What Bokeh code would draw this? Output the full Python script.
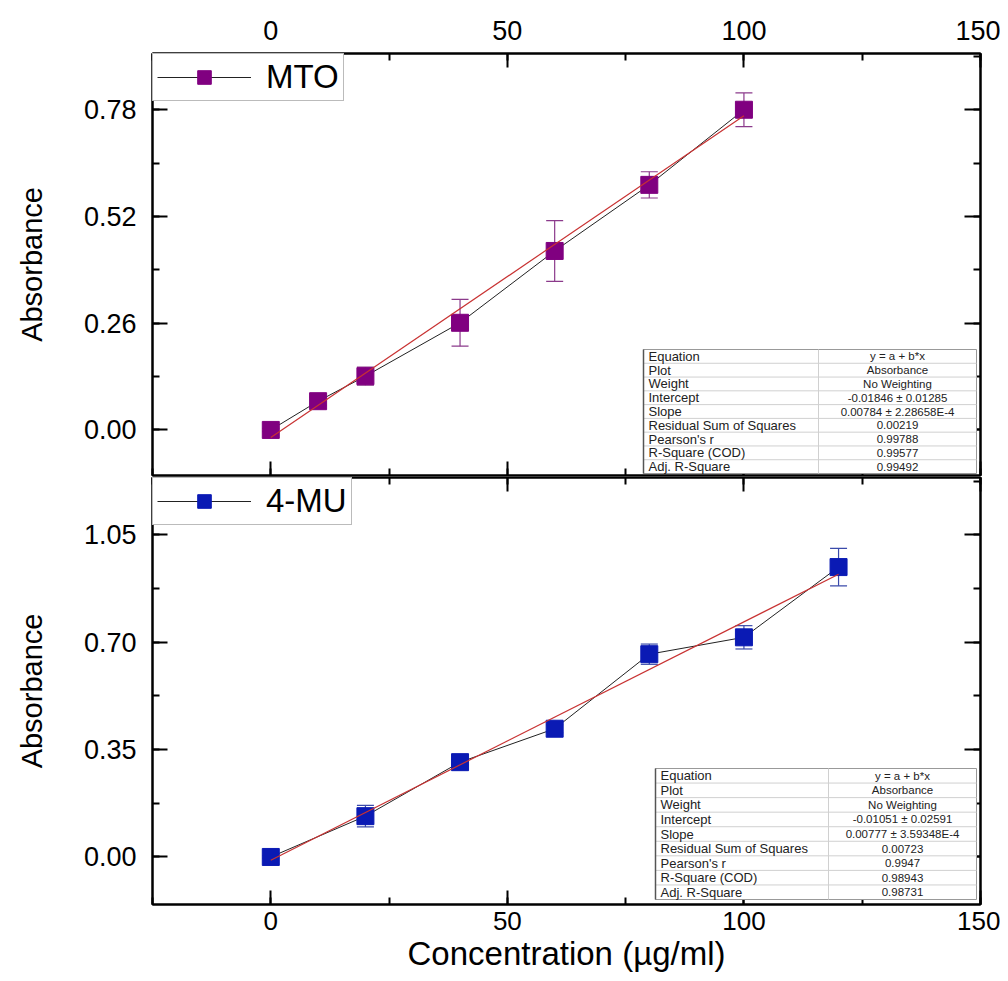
import numpy as np
from bokeh.plotting import figure
from bokeh.models import (Range1d, LinearAxis, SingleIntervalTicker, PrintfTickFormatter,
                          Whisker, TeeHead, ColumnDataSource, Legend, LegendItem)
from bokeh.layouts import column
from bokeh.embed import file_html
from bokeh.resources import INLINE
from bokeh.core.properties import value

# ---------------- data ----------------
mto_conc = [0, 10, 20, 40, 60, 80, 100]
mto_abs = [0.0, 0.070, 0.131, 0.261, 0.436, 0.597, 0.780]
mto_err = [0.004, 0.010, 0.022, 0.057, 0.074, 0.032, 0.041]

mu_conc = [0, 20, 40, 60, 80, 100, 120]
mu_abs = [0.0, 0.133, 0.309, 0.418, 0.661, 0.716, 0.945]
mu_err = [0.004, 0.035, 0.008, 0.013, 0.033, 0.038, 0.061]

mto_intercept, mto_slope = -0.01846, 0.00784
mu_intercept, mu_slope = -0.01051, 0.00777

table_labels = ["Equation", "Plot", "Weight", "Intercept", "Slope",
                "Residual Sum of Squares", "Pearson's r", "R-Square (COD)", "Adj. R-Square"]
mto_table_values = ["y = a + b*x", "Absorbance", "No Weighting", "-0.01846 \u00b1 0.01285",
                    "0.00784 \u00b1 2.28658E-4", "0.00219", "0.99788", "0.99577", "0.99492"]
mu_table_values = ["y = a + b*x", "Absorbance", "No Weighting", "-0.01051 \u00b1 0.02591",
                   "0.00777 \u00b1 3.59348E-4", "0.00723", "0.9947", "0.98943", "0.98731"]

x_ticks_step = 50
top_y_step = 0.26
bot_y_step = 0.35

# ---------------- layout constants ----------------
FONT = "Liberation Sans"
X0, X1 = -25, 150
FRAME_L, FRAME_R = 152, 980
TOP_T, TOP_B = 53, 475
BOT_T, BOT_B = 477, 904
TOP_Y = (-0.111, 0.917)
BOT_Y = (-0.155, 1.237)

MTO_COLOR = "#800080"
MTO_ERR = "#8B3A8B"
MU_COLOR = "#0A1AB4"
MU_ERR = "#3A4AAA"
FIT_COLOR = "#C83232"

xr = Range1d(X0, X1)


def px2x(px):
    return X0 + (px - FRAME_L) * (X1 - X0) / (FRAME_R - FRAME_L)


def px2y(py, t, b, yr):
    return yr[1] - (py - t) * (yr[1] - yr[0]) / (b - t)


def style_axis(ax, labels=True, tick=14, minor=7, size="24px", standoff=10):
    ax.axis_line_width = 2
    ax.axis_line_color = "black"
    ax.major_tick_in = tick
    ax.major_tick_out = 0
    ax.minor_tick_in = minor
    ax.minor_tick_out = 0
    ax.major_tick_line_width = 2
    ax.minor_tick_line_width = 2
    ax.major_tick_line_color = "black"
    ax.minor_tick_line_color = "black"
    ax.major_label_text_font = FONT
    ax.axis_label_text_font = FONT
    ax.axis_label_text_font_style = "normal"
    ax.axis_label_text_color = "black"
    if labels:
        ax.major_label_text_color = "black"
        ax.major_label_text_font_size = size
        ax.major_label_standoff = standoff
    else:
        ax.major_label_text_color = None
        ax.major_label_text_font_size = "1px"
        ax.major_label_standoff = 0


def x_ticker():
    return SingleIntervalTicker(interval=x_ticks_step, num_minor_ticks=2)


def make_panel(height, top_px, t, b, yr, ystep, xs, ys, errs, color, errcolor, a, slope,
               label, tbl_vals, tbl_box, top_fig):
    p = figure(width=1000, height=height, x_range=xr, y_range=Range1d(*yr),
               x_axis_location="above" if top_fig else "below",
               output_backend="svg", toolbar_location=None,
               min_border_left=FRAME_L, min_border_right=1000 - FRAME_R,
               min_border_top=t - top_px,
               min_border_bottom=height - (t - top_px) - (b - t))
    p.grid.visible = False
    p.outline_line_color = "black"
    p.outline_line_width = 2
    p.background_fill_color = "white"
    p.border_fill_color = "white"

    yt = SingleIntervalTicker(interval=ystep, num_minor_ticks=2)
    fmt = PrintfTickFormatter(format="%.2f")

    # main x axis
    xa = p.xaxis[0]
    xa.ticker = x_ticker()
    if top_fig:
        style_axis(xa, True, size="27px", standoff=14)
    else:
        style_axis(xa, True, size="26px", standoff=7)
        xa.axis_label = "Concentration (\u00b5g/ml)"
        xa.axis_label_text_font_size = "33px"
        xa.axis_label_standoff = 2

    ya = p.yaxis[0]
    ya.ticker = yt
    ya.formatter = fmt
    style_axis(ya, True, tick=15, minor=7, size="27px", standoff=16)
    ya.axis_label = "Absorbance"
    ya.axis_label_text_font_size = "29px"
    ya.axis_label_standoff = 33

    # mirrored axes, ticks only
    xa2 = LinearAxis(ticker=x_ticker())
    style_axis(xa2, False)
    p.add_layout(xa2, "below" if top_fig else "above")
    ya2 = LinearAxis(ticker=SingleIntervalTicker(interval=ystep, num_minor_ticks=2))
    style_axis(ya2, False, tick=16, minor=7)
    p.add_layout(ya2, "right")

    src = ColumnDataSource(dict(x=xs, y=ys,
                                lo=[v - e for v, e in zip(ys, errs)],
                                hi=[v + e for v, e in zip(ys, errs)]))
    w = Whisker(source=src, base="x", lower="lo", upper="hi",
                line_color=errcolor, line_width=1.2,
                upper_head=TeeHead(size=17, line_color=errcolor, line_width=1.2),
                lower_head=TeeHead(size=17, line_color=errcolor, line_width=1.2))
    p.add_layout(w)

    line_r = p.line("x", "y", source=src, line_color="#222222", line_width=1)
    sq_r = p.scatter("x", "y", source=src, marker="square", size=17,
                     fill_color=color, line_color=color)

    fx = np.array([min(xs), max(xs)], dtype=float)
    p.line(fx, a + slope * fx, line_color=FIT_COLOR, line_width=1.2)

    leg = Legend(items=[LegendItem(label=label, renderers=[line_r, sq_r])],
                 location="top_left", margin=0, padding=4, spacing=0,
                 glyph_width=94, glyph_height=34, label_height=34,
                 label_standoff=15, label_text_font=FONT,
                 label_text_font_size="33px", label_text_color="black",
                 border_line_color="#777777", border_line_width=1,
                 background_fill_color="white", background_fill_alpha=1)
    p.add_layout(leg)

    # statistics table
    L, R, T, B, S = tbl_box
    n = len(table_labels)
    xl, xrr, xs_ = px2x(L), px2x(R), px2x(S)
    yt_, yb_ = px2y(T, t, b, yr), px2y(B, t, b, yr)
    p.quad(left=[xl], right=[xrr], top=[yt_], bottom=[yb_],
           fill_color="white", line_color="#999999", line_width=1, level="overlay")
    row_h = (B - T) / n
    seps = [px2y(T + row_h * i, t, b, yr) for i in range(1, n)]
    p.segment(x0=[xl] * (n - 1), x1=[xrr] * (n - 1), y0=seps, y1=seps,
              line_color="#d0d0d0", line_width=1, level="overlay")
    p.segment(x0=[xs_], x1=[xs_], y0=[yt_], y1=[yb_],
              line_color="#d0d0d0", line_width=1, level="overlay")
    p.segment(x0=[xl], x1=[xl], y0=[yt_], y1=[yb_],
              line_color="#555555", line_width=1.5, level="overlay")
    centers = [px2y(T + row_h * (i + 0.5), t, b, yr) for i in range(n)]
    p.text(x=[px2x(L + 5)] * n, y=centers, text=table_labels,
           text_font=value(FONT), text_font_size=value("13px"),
           text_baseline="middle", text_align="left", text_color="#222222", level="overlay")
    p.text(x=[px2x((S + R) / 2)] * n, y=centers, text=tbl_vals,
           text_font=value(FONT), text_font_size=value("11.5px"),
           text_baseline="middle", text_align="center", text_color="#222222", level="overlay")
    return p


p1 = make_panel(476, 0, TOP_T, TOP_B, TOP_Y, top_y_step, mto_conc, mto_abs, mto_err,
                MTO_COLOR, MTO_ERR, mto_intercept, mto_slope, "MTO", mto_table_values,
                (643, 976, 349, 473, 818), True)
p2 = make_panel(505, 476, BOT_T, BOT_B, BOT_Y, bot_y_step, mu_conc, mu_abs, mu_err,
                MU_COLOR, MU_ERR, mu_intercept, mu_slope, "4-MU", mu_table_values,
                (655, 976, 768, 899, 828), False)

layout = column(p1, p2, spacing=0)
open("out.html", "w").write(file_html(layout, INLINE))
